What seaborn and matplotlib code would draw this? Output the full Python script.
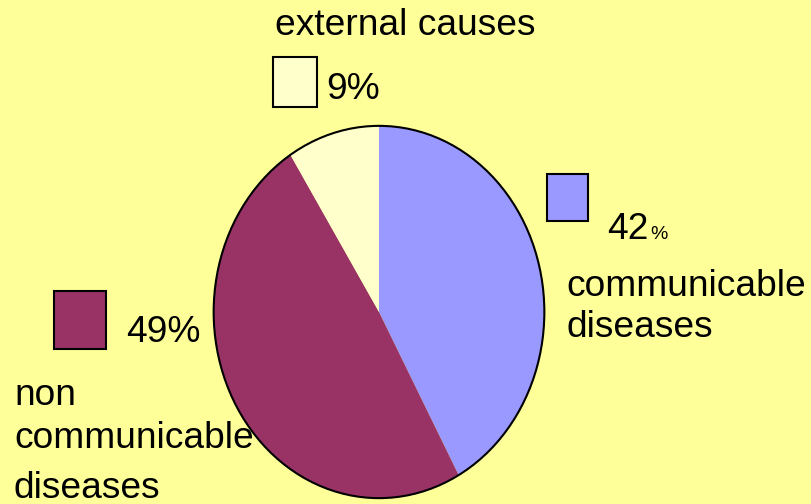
import matplotlib
matplotlib.use("Agg")
import matplotlib.pyplot as plt
from matplotlib.patches import Rectangle, Ellipse
import seaborn as sns

# Causes of death, shares in percent (clockwise from 12 o'clock)
categories = ["communicable diseases", "non communicable diseases", "external causes"]
shares = [42, 49, 9]
colors = ["#9999FF", "#993366", "#FFFFCC"]
background = "#FFFF99"

sns.set_theme(style="white")
plt.rcParams["font.family"] = ["Liberation Sans", "DejaVu Sans"]

W, H = 811, 504
fig = plt.figure(figsize=(W / 100, H / 100), dpi=100, facecolor=background)

def fx(x):
    return x / W

def fy(y):
    return 1 - y / H

# Pie stretched into an ellipse: axes box covers the ellipse extent
left, right, top, bottom = 212, 546, 124, 500
ax = fig.add_axes([fx(left), fy(bottom), (right - left) / W, (bottom - top) / H])
ax.set_facecolor("none")
wedges, _ = ax.pie(shares, colors=colors, startangle=90, counterclock=False,
                   wedgeprops=dict(linewidth=0))
ax.set_aspect("auto")
ax.set_xlim(-1.01, 1.01)
ax.set_ylim(-1.01, 1.01)
ax.add_patch(Ellipse((0, 0), 2, 2, fill=False, edgecolor="black", linewidth=1.5))
ax.axis("off")

fs = 26.7

def box(x0, y0, x1, y1, color):
    fig.patches.append(Rectangle((fx(x0), fy(y1)), (x1 - x0) / W, (y1 - y0) / H,
                                 facecolor=color, edgecolor="black", linewidth=1.5,
                                 transform=fig.transFigure, zorder=3))

def label(x, y, s, size=fs, ha="left"):
    fig.text(fx(x), fy(y), s, fontsize=size, ha=ha, va="baseline", color="black", zorder=4)

# external causes
label(275, 35, "external causes")
box(273, 57, 317, 107, colors[2])
label(326, 99, f"{shares[2]}%")

# communicable diseases
box(547, 174, 588, 221, colors[0])
label(607, 239, f"{shares[0]}")
label(650, 239, "%", size=14)
label(566, 296, "communicable")
label(566, 337, "diseases")

# non communicable diseases
box(54, 291, 106, 349, colors[1])
label(126, 342, f"{shares[1]}%")
label(14, 405, "non")
label(14, 448, "communicable")
label(14, 498, "diseases")

fig.savefig("out.png", dpi=100, facecolor=background)
